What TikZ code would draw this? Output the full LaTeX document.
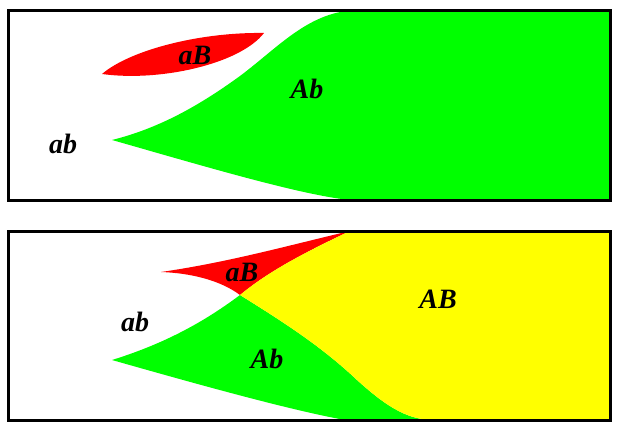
\documentclass[tikz,border=0pt]{standalone}
\usepackage{fontspec}
\setmainfont{Liberation Serif}
\definecolor{redAB}{RGB}{255,0,0}
\definecolor{greenAb}{RGB}{0,255,0}
\definecolor{yellowAB}{RGB}{255,255,0}
\tikzset{
  geno/.style={font=\fontsize{28}{32}\selectfont\bfseries\itshape, inner sep=0pt},
  panel/.style={draw=black, line width=3pt}
}
\def\xL{8}
\def\xR{610}

\begin{document}
\begin{tikzpicture}[x=1pt, y=-1pt]
    \useasboundingbox (0,0) rectangle (620,431);

    %% top panel
    \fill[redAB] (102,74) .. controls (130,50) and (200,32) .. (264,33)
                          .. controls (240,64) and (160,82) .. (102,74) -- cycle;
    \fill[greenAb] (112,140) .. controls (160,128) and (200,105) .. (240,76)
                             .. controls (280,46) and (310,10) .. (360,10)
                   -- (\xR,10) -- (\xR,200) -- (350,200)
                   .. controls (300,195) and (200,165) .. (112,140) -- cycle;
    \draw[panel] (\xL,10) rectangle (\xR,200);

    \node[geno] (aB1) at (195,55) {aB};
    \node[geno] (Ab1) at (307,89) {Ab};
    \node[geno] (ab1) at (63,144) {ab};

    %% bottom panel
    \fill[redAB] (161,272) .. controls (230,262) and (290,245) .. (350,231)
                           .. controls (310,250) and (270,270) .. (240,295)
                           .. controls (220,280) and (190,273) .. (161,272) -- cycle;
    \fill[greenAb] (112,360) .. controls (160,345) and (200,325) .. (240,295)
                             .. controls (280,320) and (320,345) .. (357,380)
                             .. controls (390,410) and (410,420) .. (435,420)
                   -- (345,420)
                   .. controls (290,410) and (200,385) .. (112,360) -- cycle;
    \fill[yellowAB] (350,231) -- (\xR,231) -- (\xR,420) -- (435,420)
                    .. controls (410,420) and (390,410) .. (357,380)
                    .. controls (320,345) and (280,320) .. (240,295)
                    .. controls (270,270) and (310,250) .. (350,231) -- cycle;
    \draw[panel] (\xL,231) rectangle (\xR,420);

    \node[geno] (aB2) at (242,272) {aB};
    \node[geno] (AB2) at (438,299) {AB};
    \node[geno] (ab2) at (135,322) {ab};
    \node[geno] (Ab2) at (267,359) {Ab};

\end{tikzpicture}
\end{document}
